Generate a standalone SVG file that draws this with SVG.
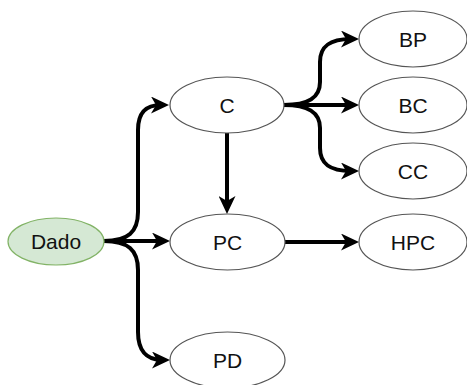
<svg xmlns="http://www.w3.org/2000/svg" width="467" height="385" viewBox="0 0 467 385">
  <defs>
    <marker id="arrow" viewBox="0 0 18 17" refX="10" refY="8.5" markerWidth="18" markerHeight="17" markerUnits="userSpaceOnUse" orient="auto">
      <path d="M0,0 L18,8.5 L0,17 L5,8.5 Z" fill="#000"/>
    </marker>
    <style>
      .node ellipse { fill: #ffffff; stroke: #555555; stroke-width: 1.2; }
      .node.root ellipse { fill: #d5e8d4; stroke: #82b366; }
      .node text { font-family: "Liberation Sans", Arial, sans-serif; font-size: 21px; fill: #111111; text-anchor: middle; }
      .edge { fill: none; stroke: #000000; stroke-width: 4; marker-end: url(#arrow); }
    </style>
  </defs>
  <rect width="467" height="385" fill="#ffffff"/>

  <!-- connectors -->
  <g id="edges">
    <path class="edge" d="M104,241 C128,241 138,232 138,212 L138,130 C138,112 146,105 161,105"/>
    <path class="edge" d="M104,241 L162,241"/>
    <path class="edge" d="M104,241 C128,241 138,250 138,270 L138,332 C138,350 146,360 162,360"/>
    <path class="edge" d="M227,133 L227,206"/>
    <path class="edge" d="M284,105 C308,105 320,98 320,82 L320,62 C320,46 330,39 351,39"/>
    <path class="edge" d="M284,105 L351,105"/>
    <path class="edge" d="M284,105 C308,105 320,112 320,128 L320,148 C320,164 330,171 351,171"/>
    <path class="edge" d="M285,242 L351,242"/>
  </g>

  <!-- nodes -->
  <g id="node-dado" class="node root">
    <ellipse cx="56" cy="241.5" rx="48" ry="23.5"/>
    <text x="56" y="249">Dado</text>
  </g>
  <g id="node-c" class="node">
    <ellipse cx="227" cy="105" rx="57" ry="28"/>
    <text x="227" y="112.5">C</text>
  </g>
  <g id="node-pc" class="node">
    <ellipse cx="227.5" cy="242" rx="57.5" ry="28"/>
    <text x="227.5" y="249.5">PC</text>
  </g>
  <g id="node-pd" class="node">
    <ellipse cx="227.5" cy="360" rx="57.5" ry="28"/>
    <text x="227.5" y="367.5">PD</text>
  </g>
  <g id="node-bp" class="node">
    <ellipse cx="413" cy="39" rx="54" ry="28"/>
    <text x="413" y="46.5">BP</text>
  </g>
  <g id="node-bc" class="node">
    <ellipse cx="413" cy="105" rx="54" ry="28"/>
    <text x="413" y="112.5">BC</text>
  </g>
  <g id="node-cc" class="node">
    <ellipse cx="413" cy="171" rx="54" ry="28"/>
    <text x="413" y="178.5">CC</text>
  </g>
  <g id="node-hpc" class="node">
    <ellipse cx="413" cy="242" rx="54" ry="28"/>
    <text x="413" y="249.5">HPC</text>
  </g>
</svg>
